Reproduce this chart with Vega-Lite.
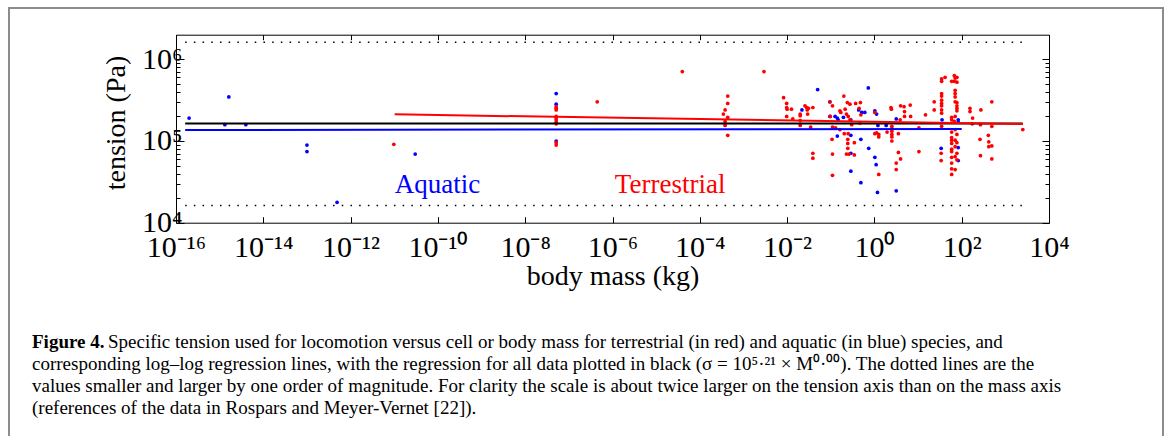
{
  "$schema": "https://vega.github.io/schema/vega-lite/v6.json",
  "width": 1154,
  "height": 432,
  "autosize": "none",
  "padding": {"left": 9, "top": 8, "right": 8, "bottom": 0},
  "background": "white",
  "config": {
    "view": {"stroke": "#8c8c8c", "strokeWidth": 2},
    "font": "Liberation Serif",
    "axis": {"grid": false, "domainColor": "#000000", "domainWidth": 1, "tickColor": "#000000", "tickWidth": 1, "labelColor": "#000000", "titleColor": "#000000", "labelFont": "Liberation Serif", "titleFont": "Liberation Serif", "labelFlush": false, "labelOverlap": false, "titleFontWeight": "normal"}
  },
  "title": {
    "text": "Figure 4.",
    "subtitle": [
      "\u200B\u2003\u2003\u2003\u2003Specific tension used for locomotion versus cell or body mass for terrestrial (in red) and aquatic (in blue) species, and",
      "corresponding log–log regression lines, with the regression for all data plotted in black (σ = 10⁵·²¹ × M⁰·⁰⁰). The dotted lines are the",
      "values smaller and larger by one order of magnitude. For clarity the scale is about twice larger on the tension axis than on the mass axis",
      "(references of the data in Rospars and Meyer-Vernet [22])."
    ],
    "orient": "bottom", "anchor": "start", "frame": "group", "offset": -107.5, "dx": 23,
    "font": "Liberation Serif", "fontSize": 19, "fontWeight": "bold", "color": "#000000",
    "subtitleFont": "Liberation Serif", "subtitleFontSize": 19, "subtitleFontWeight": "normal", "subtitleColor": "#000000",
    "subtitleLineHeight": 22.3, "subtitlePadding": -19
  },
  "resolve": {"axis": {"x": "independent", "y": "independent"}},
  "layer": [
    {
      "data": {"values": [
        {"group": "aquatic", "log_mass": -15.70, "log_tension": 5.28},
        {"group": "aquatic", "log_mass": -14.79, "log_tension": 5.54},
        {"group": "aquatic", "log_mass": -14.88, "log_tension": 5.20},
        {"group": "aquatic", "log_mass": -14.40, "log_tension": 5.20},
        {"group": "aquatic", "log_mass": -13.00, "log_tension": 4.95},
        {"group": "aquatic", "log_mass": -13.00, "log_tension": 4.87},
        {"group": "aquatic", "log_mass": -12.31, "log_tension": 4.25},
        {"group": "aquatic", "log_mass": -10.52, "log_tension": 4.84},
        {"group": "aquatic", "log_mass": -7.29, "log_tension": 5.58},
        {"group": "aquatic", "log_mass": -7.29, "log_tension": 5.45},
        {"group": "aquatic", "log_mass": -7.29, "log_tension": 5.00},
        {"group": "aquatic", "log_mass": -1.30, "log_tension": 5.63},
        {"group": "aquatic", "log_mass": -1.66, "log_tension": 5.38},
        {"group": "aquatic", "log_mass": -1.02, "log_tension": 5.48},
        {"group": "aquatic", "log_mass": -1.02, "log_tension": 5.30},
        {"group": "aquatic", "log_mass": -0.90, "log_tension": 5.30},
        {"group": "aquatic", "log_mass": -0.85, "log_tension": 5.28},
        {"group": "aquatic", "log_mass": -0.83, "log_tension": 5.26},
        {"group": "aquatic", "log_mass": -0.71, "log_tension": 5.29},
        {"group": "aquatic", "log_mass": -0.54, "log_tension": 5.26},
        {"group": "aquatic", "log_mass": -0.85, "log_tension": 5.06},
        {"group": "aquatic", "log_mass": -0.54, "log_tension": 5.07},
        {"group": "aquatic", "log_mass": -0.54, "log_tension": 4.85},
        {"group": "aquatic", "log_mass": -0.54, "log_tension": 4.63},
        {"group": "aquatic", "log_mass": -0.31, "log_tension": 4.49},
        {"group": "aquatic", "log_mass": -0.31, "log_tension": 5.02},
        {"group": "aquatic", "log_mass": -0.14, "log_tension": 5.65},
        {"group": "aquatic", "log_mass": -0.13, "log_tension": 4.91},
        {"group": "aquatic", "log_mass": -0.36, "log_tension": 5.38},
        {"group": "aquatic", "log_mass": -0.29, "log_tension": 5.35},
        {"group": "aquatic", "log_mass": -0.22, "log_tension": 5.35},
        {"group": "aquatic", "log_mass": 0.01, "log_tension": 5.37},
        {"group": "aquatic", "log_mass": 0.05, "log_tension": 5.33},
        {"group": "aquatic", "log_mass": 0.08, "log_tension": 5.19},
        {"group": "aquatic", "log_mass": 0.01, "log_tension": 4.80},
        {"group": "aquatic", "log_mass": 0.04, "log_tension": 4.71},
        {"group": "aquatic", "log_mass": 0.07, "log_tension": 4.37},
        {"group": "aquatic", "log_mass": 0.27, "log_tension": 5.19},
        {"group": "aquatic", "log_mass": 0.50, "log_tension": 5.27},
        {"group": "aquatic", "log_mass": 0.50, "log_tension": 4.39},
        {"group": "aquatic", "log_mass": 1.55, "log_tension": 5.26},
        {"group": "aquatic", "log_mass": 1.53, "log_tension": 4.91},
        {"group": "aquatic", "log_mass": 1.92, "log_tension": 5.26},
        {"group": "aquatic", "log_mass": 1.92, "log_tension": 5.23},
        {"group": "aquatic", "log_mass": 1.92, "log_tension": 4.92},
        {"group": "aquatic", "log_mass": 1.92, "log_tension": 4.76},
        {"group": "terrestrial", "log_mass": -11.01, "log_tension": 4.96},
        {"group": "terrestrial", "log_mass": -7.29, "log_tension": 5.42},
        {"group": "terrestrial", "log_mass": -7.29, "log_tension": 5.40},
        {"group": "terrestrial", "log_mass": -7.29, "log_tension": 5.38},
        {"group": "terrestrial", "log_mass": -7.29, "log_tension": 5.30},
        {"group": "terrestrial", "log_mass": -7.29, "log_tension": 5.28},
        {"group": "terrestrial", "log_mass": -7.29, "log_tension": 5.26},
        {"group": "terrestrial", "log_mass": -7.29, "log_tension": 5.23},
        {"group": "terrestrial", "log_mass": -7.29, "log_tension": 5.21},
        {"group": "terrestrial", "log_mass": -7.29, "log_tension": 4.98},
        {"group": "terrestrial", "log_mass": -7.29, "log_tension": 4.95},
        {"group": "terrestrial", "log_mass": -6.35, "log_tension": 5.48},
        {"group": "terrestrial", "log_mass": -4.40, "log_tension": 5.85},
        {"group": "terrestrial", "log_mass": -2.53, "log_tension": 5.85},
        {"group": "terrestrial", "log_mass": -3.36, "log_tension": 5.55},
        {"group": "terrestrial", "log_mass": -3.36, "log_tension": 5.46},
        {"group": "terrestrial", "log_mass": -3.42, "log_tension": 5.38},
        {"group": "terrestrial", "log_mass": -3.46, "log_tension": 5.33},
        {"group": "terrestrial", "log_mass": -3.36, "log_tension": 5.29},
        {"group": "terrestrial", "log_mass": -3.42, "log_tension": 5.24},
        {"group": "terrestrial", "log_mass": -3.42, "log_tension": 5.19},
        {"group": "terrestrial", "log_mass": -3.36, "log_tension": 5.07},
        {"group": "terrestrial", "log_mass": -2.08, "log_tension": 5.53},
        {"group": "terrestrial", "log_mass": -2.01, "log_tension": 5.46},
        {"group": "terrestrial", "log_mass": -2.01, "log_tension": 5.41},
        {"group": "terrestrial", "log_mass": -2.00, "log_tension": 5.39},
        {"group": "terrestrial", "log_mass": -1.90, "log_tension": 5.39},
        {"group": "terrestrial", "log_mass": -2.01, "log_tension": 5.30},
        {"group": "terrestrial", "log_mass": -1.87, "log_tension": 5.27},
        {"group": "terrestrial", "log_mass": -1.70, "log_tension": 5.33},
        {"group": "terrestrial", "log_mass": -1.70, "log_tension": 5.31},
        {"group": "terrestrial", "log_mass": -1.70, "log_tension": 5.25},
        {"group": "terrestrial", "log_mass": -1.70, "log_tension": 5.19},
        {"group": "terrestrial", "log_mass": -1.59, "log_tension": 5.43},
        {"group": "terrestrial", "log_mass": -1.55, "log_tension": 5.41},
        {"group": "terrestrial", "log_mass": -1.51, "log_tension": 5.40},
        {"group": "terrestrial", "log_mass": -1.54, "log_tension": 5.38},
        {"group": "terrestrial", "log_mass": -1.53, "log_tension": 5.33},
        {"group": "terrestrial", "log_mass": -1.41, "log_tension": 5.41},
        {"group": "terrestrial", "log_mass": -1.46, "log_tension": 5.17},
        {"group": "terrestrial", "log_mass": -1.41, "log_tension": 4.85},
        {"group": "terrestrial", "log_mass": -1.41, "log_tension": 4.79},
        {"group": "terrestrial", "log_mass": -1.02, "log_tension": 5.48},
        {"group": "terrestrial", "log_mass": -0.96, "log_tension": 5.43},
        {"group": "terrestrial", "log_mass": -1.01, "log_tension": 5.30},
        {"group": "terrestrial", "log_mass": -0.96, "log_tension": 5.17},
        {"group": "terrestrial", "log_mass": -0.97, "log_tension": 5.02},
        {"group": "terrestrial", "log_mass": -0.96, "log_tension": 4.84},
        {"group": "terrestrial", "log_mass": -0.96, "log_tension": 4.58},
        {"group": "terrestrial", "log_mass": -0.89, "log_tension": 5.16},
        {"group": "terrestrial", "log_mass": -0.79, "log_tension": 5.14},
        {"group": "terrestrial", "log_mass": -0.79, "log_tension": 5.37},
        {"group": "terrestrial", "log_mass": -0.77, "log_tension": 5.35},
        {"group": "terrestrial", "log_mass": -0.70, "log_tension": 5.55},
        {"group": "terrestrial", "log_mass": -0.62, "log_tension": 5.47},
        {"group": "terrestrial", "log_mass": -0.56, "log_tension": 5.45},
        {"group": "terrestrial", "log_mass": -0.67, "log_tension": 5.39},
        {"group": "terrestrial", "log_mass": -0.64, "log_tension": 5.33},
        {"group": "terrestrial", "log_mass": -0.60, "log_tension": 5.30},
        {"group": "terrestrial", "log_mass": -0.56, "log_tension": 5.26},
        {"group": "terrestrial", "log_mass": -0.52, "log_tension": 5.20},
        {"group": "terrestrial", "log_mass": -0.69, "log_tension": 5.09},
        {"group": "terrestrial", "log_mass": -0.60, "log_tension": 5.09},
        {"group": "terrestrial", "log_mass": -0.61, "log_tension": 5.02},
        {"group": "terrestrial", "log_mass": -0.61, "log_tension": 4.97},
        {"group": "terrestrial", "log_mass": -0.61, "log_tension": 4.91},
        {"group": "terrestrial", "log_mass": -0.64, "log_tension": 4.84},
        {"group": "terrestrial", "log_mass": -0.58, "log_tension": 4.84},
        {"group": "terrestrial", "log_mass": -0.46, "log_tension": 4.83},
        {"group": "terrestrial", "log_mass": -0.46, "log_tension": 4.98},
        {"group": "terrestrial", "log_mass": -0.43, "log_tension": 5.46},
        {"group": "terrestrial", "log_mass": -0.32, "log_tension": 5.47},
        {"group": "terrestrial", "log_mass": -0.35, "log_tension": 5.40},
        {"group": "terrestrial", "log_mass": -0.31, "log_tension": 5.32},
        {"group": "terrestrial", "log_mass": -0.33, "log_tension": 5.22},
        {"group": "terrestrial", "log_mass": 0.01, "log_tension": 5.35},
        {"group": "terrestrial", "log_mass": 0.05, "log_tension": 5.10},
        {"group": "terrestrial", "log_mass": 0.10, "log_tension": 5.08},
        {"group": "terrestrial", "log_mass": 0.10, "log_tension": 5.05},
        {"group": "terrestrial", "log_mass": 0.10, "log_tension": 4.59},
        {"group": "terrestrial", "log_mass": 0.01, "log_tension": 5.09},
        {"group": "terrestrial", "log_mass": 0.29, "log_tension": 5.11},
        {"group": "terrestrial", "log_mass": 0.40, "log_tension": 5.18},
        {"group": "terrestrial", "log_mass": 0.40, "log_tension": 5.15},
        {"group": "terrestrial", "log_mass": 0.40, "log_tension": 5.12},
        {"group": "terrestrial", "log_mass": 0.40, "log_tension": 5.08},
        {"group": "terrestrial", "log_mass": 0.40, "log_tension": 5.05},
        {"group": "terrestrial", "log_mass": 0.40, "log_tension": 5.00},
        {"group": "terrestrial", "log_mass": 0.38, "log_tension": 5.41},
        {"group": "terrestrial", "log_mass": 0.39, "log_tension": 5.39},
        {"group": "terrestrial", "log_mass": 0.50, "log_tension": 4.73},
        {"group": "terrestrial", "log_mass": 0.50, "log_tension": 4.65},
        {"group": "terrestrial", "log_mass": 0.55, "log_tension": 4.86},
        {"group": "terrestrial", "log_mass": 0.60, "log_tension": 5.43},
        {"group": "terrestrial", "log_mass": 0.68, "log_tension": 5.42},
        {"group": "terrestrial", "log_mass": 0.69, "log_tension": 5.36},
        {"group": "terrestrial", "log_mass": 0.69, "log_tension": 5.30},
        {"group": "terrestrial", "log_mass": 0.60, "log_tension": 4.78},
        {"group": "terrestrial", "log_mass": 0.59, "log_tension": 5.26},
        {"group": "terrestrial", "log_mass": 0.55, "log_tension": 5.09},
        {"group": "terrestrial", "log_mass": 0.82, "log_tension": 5.44},
        {"group": "terrestrial", "log_mass": 0.83, "log_tension": 5.30},
        {"group": "terrestrial", "log_mass": 1.02, "log_tension": 5.16},
        {"group": "terrestrial", "log_mass": 1.02, "log_tension": 4.87},
        {"group": "terrestrial", "log_mass": 1.17, "log_tension": 5.32},
        {"group": "terrestrial", "log_mass": 1.37, "log_tension": 5.48},
        {"group": "terrestrial", "log_mass": 1.37, "log_tension": 5.38},
        {"group": "terrestrial", "log_mass": 1.53, "log_tension": 4.85},
        {"group": "terrestrial", "log_mass": 1.53, "log_tension": 4.76},
        {"group": "terrestrial", "log_mass": 1.54, "log_tension": 5.76},
        {"group": "terrestrial", "log_mass": 1.62, "log_tension": 5.78},
        {"group": "terrestrial", "log_mass": 1.54, "log_tension": 5.73},
        {"group": "terrestrial", "log_mass": 1.54, "log_tension": 5.58},
        {"group": "terrestrial", "log_mass": 1.54, "log_tension": 5.55},
        {"group": "terrestrial", "log_mass": 1.54, "log_tension": 5.50},
        {"group": "terrestrial", "log_mass": 1.54, "log_tension": 5.46},
        {"group": "terrestrial", "log_mass": 1.54, "log_tension": 5.43},
        {"group": "terrestrial", "log_mass": 1.54, "log_tension": 5.38},
        {"group": "terrestrial", "log_mass": 1.54, "log_tension": 5.34},
        {"group": "terrestrial", "log_mass": 1.54, "log_tension": 5.18},
        {"group": "terrestrial", "log_mass": 1.77, "log_tension": 5.73},
        {"group": "terrestrial", "log_mass": 1.77, "log_tension": 5.29},
        {"group": "terrestrial", "log_mass": 1.77, "log_tension": 5.26},
        {"group": "terrestrial", "log_mass": 1.77, "log_tension": 5.11},
        {"group": "terrestrial", "log_mass": 1.77, "log_tension": 5.04},
        {"group": "terrestrial", "log_mass": 1.77, "log_tension": 5.01},
        {"group": "terrestrial", "log_mass": 1.77, "log_tension": 4.97},
        {"group": "terrestrial", "log_mass": 1.77, "log_tension": 4.90},
        {"group": "terrestrial", "log_mass": 1.77, "log_tension": 4.87},
        {"group": "terrestrial", "log_mass": 1.77, "log_tension": 4.80},
        {"group": "terrestrial", "log_mass": 1.77, "log_tension": 4.73},
        {"group": "terrestrial", "log_mass": 1.77, "log_tension": 4.66},
        {"group": "terrestrial", "log_mass": 1.77, "log_tension": 4.59},
        {"group": "terrestrial", "log_mass": 1.83, "log_tension": 5.80},
        {"group": "terrestrial", "log_mass": 1.89, "log_tension": 5.78},
        {"group": "terrestrial", "log_mass": 1.85, "log_tension": 5.77},
        {"group": "terrestrial", "log_mass": 1.83, "log_tension": 5.73},
        {"group": "terrestrial", "log_mass": 1.89, "log_tension": 5.72},
        {"group": "terrestrial", "log_mass": 1.85, "log_tension": 5.62},
        {"group": "terrestrial", "log_mass": 1.85, "log_tension": 5.58},
        {"group": "terrestrial", "log_mass": 1.85, "log_tension": 5.54},
        {"group": "terrestrial", "log_mass": 1.85, "log_tension": 5.48},
        {"group": "terrestrial", "log_mass": 1.89, "log_tension": 5.47},
        {"group": "terrestrial", "log_mass": 1.89, "log_tension": 5.43},
        {"group": "terrestrial", "log_mass": 1.89, "log_tension": 5.40},
        {"group": "terrestrial", "log_mass": 1.89, "log_tension": 5.37},
        {"group": "terrestrial", "log_mass": 1.85, "log_tension": 5.30},
        {"group": "terrestrial", "log_mass": 1.83, "log_tension": 5.24},
        {"group": "terrestrial", "log_mass": 1.85, "log_tension": 5.14},
        {"group": "terrestrial", "log_mass": 1.89, "log_tension": 5.08},
        {"group": "terrestrial", "log_mass": 1.85, "log_tension": 5.01},
        {"group": "terrestrial", "log_mass": 1.89, "log_tension": 4.98},
        {"group": "terrestrial", "log_mass": 1.85, "log_tension": 4.93},
        {"group": "terrestrial", "log_mass": 1.89, "log_tension": 4.85},
        {"group": "terrestrial", "log_mass": 1.85, "log_tension": 4.81},
        {"group": "terrestrial", "log_mass": 1.89, "log_tension": 4.77},
        {"group": "terrestrial", "log_mass": 1.85, "log_tension": 4.65},
        {"group": "terrestrial", "log_mass": 2.19, "log_tension": 5.40},
        {"group": "terrestrial", "log_mass": 2.19, "log_tension": 5.36},
        {"group": "terrestrial", "log_mass": 2.25, "log_tension": 5.28},
        {"group": "terrestrial", "log_mass": 2.24, "log_tension": 5.21},
        {"group": "terrestrial", "log_mass": 2.44, "log_tension": 5.38},
        {"group": "terrestrial", "log_mass": 2.43, "log_tension": 5.20},
        {"group": "terrestrial", "log_mass": 2.42, "log_tension": 5.02},
        {"group": "terrestrial", "log_mass": 2.43, "log_tension": 4.82},
        {"group": "terrestrial", "log_mass": 2.61, "log_tension": 5.07},
        {"group": "terrestrial", "log_mass": 2.62, "log_tension": 4.99},
        {"group": "terrestrial", "log_mass": 2.62, "log_tension": 4.93},
        {"group": "terrestrial", "log_mass": 2.69, "log_tension": 4.94},
        {"group": "terrestrial", "log_mass": 2.69, "log_tension": 5.48},
        {"group": "terrestrial", "log_mass": 2.69, "log_tension": 5.18},
        {"group": "terrestrial", "log_mass": 2.69, "log_tension": 4.78},
        {"group": "terrestrial", "log_mass": 3.40, "log_tension": 5.14}
      ]},
      "mark": {"type": "circle", "size": 14, "opacity": 1},
      "encoding": {
        "x": {"field": "log_mass", "type": "quantitative",
          "scale": {"domain": [-16, 4], "range": [167, 1040], "nice": false, "zero": false},
          "axis": {"orient": "bottom", "offset": -217.3, "values": [-16, -14, -12, -10, -8, -6, -4, -2, 0, 2, 4], "tickSize": -6,
            "labelExpr": "'10' + replace(replace(replace(replace(replace(replace(replace('' + datum.value, '-', '⁻'), '1', '¹'), '6', '⁶'), '4', '⁴'), '2', '²'), '8', '⁸'), '0', '⁰')",
            "labelFontSize": 30, "labelPadding": 16, "title": "body mass (kg)", "titleFontSize": 28, "titlePadding": 0}},
        "y": {"field": "log_tension", "type": "quantitative",
          "scale": {"domain": [4, 6.30103], "range": [214.7, 26.7], "nice": false, "zero": false},
          "axis": {"orient": "left", "offset": -167, "values": [4, 5, 6], "tickSize": -8,
            "labelExpr": "datum.value == 4 ? '10⁴' : datum.value == 5 ? '10⁵' : '10⁶'",
            "labelFontSize": 30, "labelPadding": 2, "title": "tension (Pa)", "titleFontSize": 28, "titlePadding": 11, "titleY": 114.5}},
        "color": {"field": "group", "type": "nominal", "scale": {"domain": ["aquatic", "terrestrial", "all"], "range": ["#0000ff", "#ff0000", "#000000"]}, "legend": null}
      }
    },
    {
      "data": {"values": [
        {"log_mass_start": -15.79, "log_mass_end": 3.40, "log_tension": 6.21},
        {"log_mass_start": -15.79, "log_mass_end": 3.40, "log_tension": 4.21}
      ]},
      "mark": {"type": "rule", "strokeDash": [1.5, 7.2], "strokeWidth": 1.5, "color": "#000000"},
      "encoding": {
        "x": {"field": "log_mass_start", "type": "quantitative",
          "axis": {"orient": "top", "offset": -26.7, "values": [-16, -14, -12, -10, -8, -6, -4, -2, 0, 2, 4], "tickSize": -5, "labels": false, "title": null}},
        "x2": {"field": "log_mass_end"},
        "y": {"field": "log_tension", "type": "quantitative",
          "axis": {"orient": "left", "offset": -167, "values": [4.30103, 4.47712, 4.60206, 4.69897, 4.77815, 4.8451, 4.90309, 4.95424, 5.30103, 5.47712, 5.60206, 5.69897, 5.77815, 5.8451, 5.90309, 5.95424], "tickSize": -4, "labels": false, "title": null}}
      }
    },
    {
      "data": {"values": [
        {"group": "all", "log_mass": -15.79, "log_tension": 5.215},
        {"group": "all", "log_mass": 3.40, "log_tension": 5.215},
        {"group": "aquatic", "log_mass": -15.79, "log_tension": 5.135},
        {"group": "aquatic", "log_mass": 2.00, "log_tension": 5.147},
        {"group": "terrestrial", "log_mass": -10.99, "log_tension": 5.326},
        {"group": "terrestrial", "log_mass": 3.40, "log_tension": 5.208}
      ]},
      "mark": {"type": "line", "strokeWidth": 2},
      "encoding": {
        "x": {"field": "log_mass", "type": "quantitative", "axis": null},
        "y": {"field": "log_tension", "type": "quantitative",
          "axis": {"orient": "right", "offset": -114, "values": [4, 5, 6], "tickSize": -7, "labels": false, "title": null}},
        "color": {"field": "group", "type": "nominal", "scale": {"domain": ["aquatic", "terrestrial", "all"], "range": ["#0000ff", "#ff0000", "#000000"]}, "legend": null}
      }
    },
    {
      "data": {"values": [
        {"label": "Aquatic", "group": "aquatic", "log_mass": -10.01, "log_tension": 4.364},
        {"label": "Terrestrial", "group": "terrestrial", "log_mass": -4.68, "log_tension": 4.364}
      ]},
      "mark": {"type": "text", "font": "Liberation Serif", "fontSize": 27, "align": "center", "baseline": "alphabetic"},
      "encoding": {
        "x": {"field": "log_mass", "type": "quantitative", "axis": null},
        "y": {"field": "log_tension", "type": "quantitative",
          "axis": {"orient": "right", "offset": -114, "values": [4.30103, 4.47712, 4.60206, 4.69897, 4.77815, 4.8451, 4.90309, 4.95424, 5.30103, 5.47712, 5.60206, 5.69897, 5.77815, 5.8451, 5.90309, 5.95424], "tickSize": -4, "labels": false, "title": null}},
        "text": {"field": "label"},
        "color": {"field": "group", "type": "nominal", "scale": {"domain": ["aquatic", "terrestrial", "all"], "range": ["#0000ff", "#ff0000", "#000000"]}, "legend": null}
      }
    }
  ]
}
